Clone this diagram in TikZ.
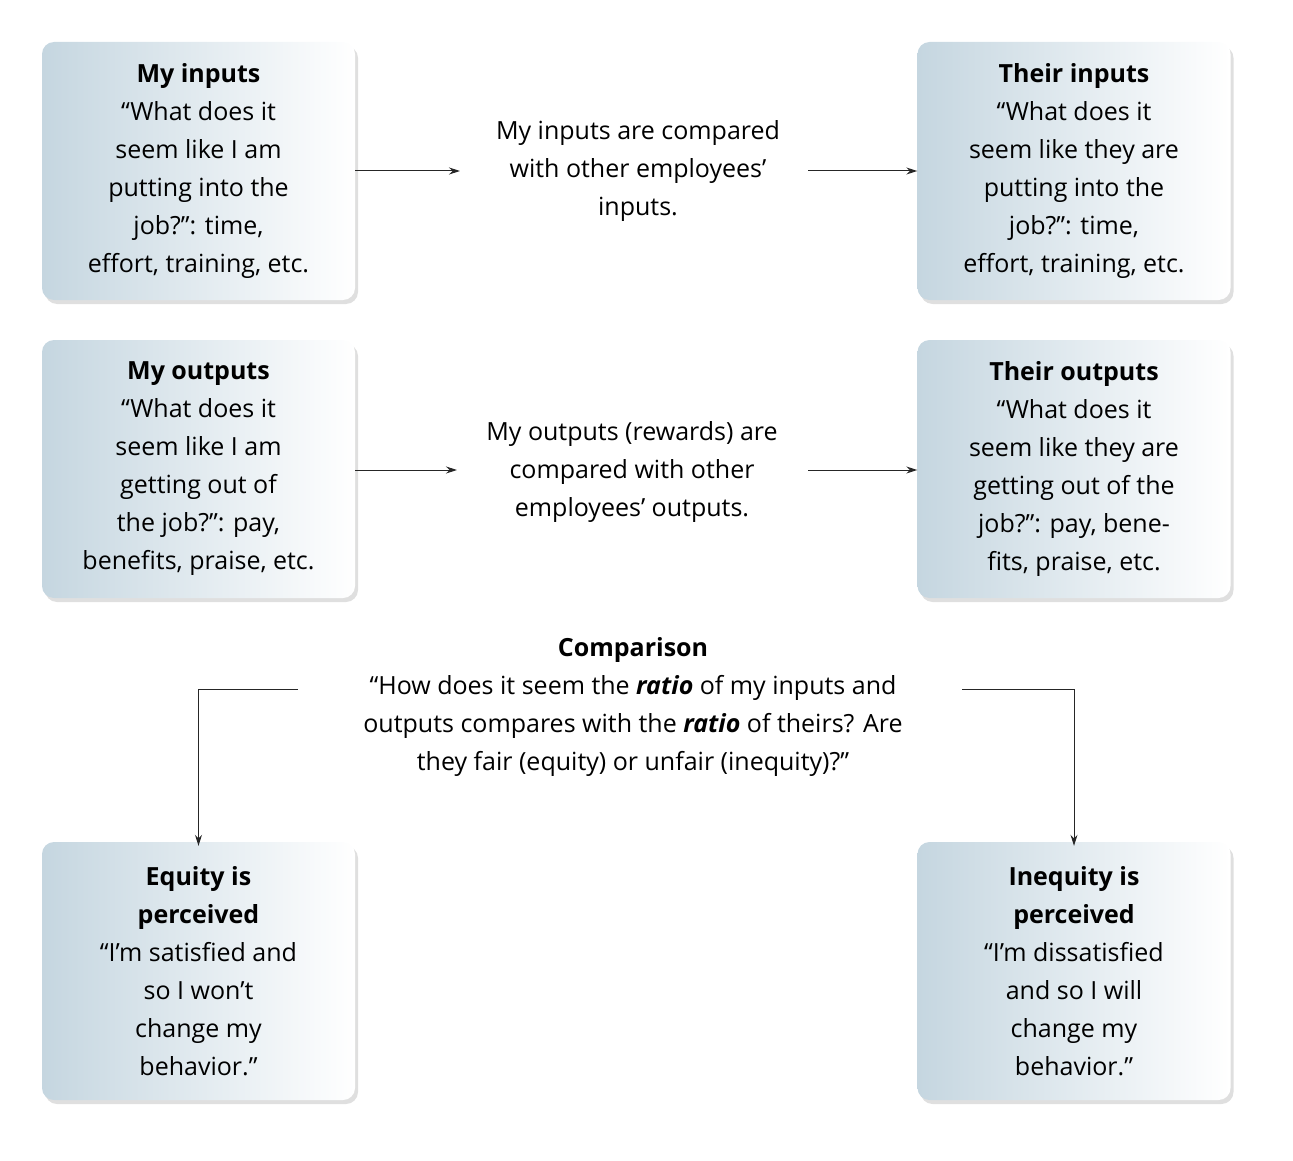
\documentclass[tikz,border=0pt]{standalone}
\usepackage{fontspec}
\setmainfont{Open Sans}
\usetikzlibrary{shadows,arrows.meta}
\definecolor{boxblue}{HTML}{C5D6E0}
\begin{document}
\begin{tikzpicture}[x=1pt,y=-1pt,
  box/.style={rounded corners=12pt, minimum width=313pt, minimum height=258pt, align=center,
    left color=boxblue, right color=white, draw=none,
    drop shadow={shadow xshift=3pt, shadow yshift=-4pt, opacity=0.25, fill=gray},
    font=\fontsize{25}{38}\selectfont, inner sep=4pt},
  lab/.style={align=center, font=\fontsize{25}{38}\selectfont},
  arr/.style={-{Stealth[length=11pt,width=7pt]}, line width=1pt, draw=black!85}]
\useasboundingbox (0,0) rectangle (1293,1161);
\node[box] (mi) at (198.5,171) {\textbf{My inputs}\\“What does it\\seem like I am\\putting into the\\job?”: time,\\effort, training, etc.};
\node[box] (ti) at (1074,171) {\textbf{Their inputs}\\“What does it\\seem like they are\\putting into the\\job?”: time,\\effort, training, etc.};
\node[box] (mo) at (198.5,469) {\textbf{My outputs}\\“What does it\\seem like I am\\getting out of\\the job?”: pay,\\benefits, praise, etc.};
\node[box] (to) at (1074,469) {\textbf{Their outputs}\\“What does it\\seem like they are\\getting out of the\\job?”: pay, bene-\\fits, praise, etc.};
\node[box] (eq) at (198.5,971) {\textbf{Equity is}\\\textbf{perceived}\\“I’m satisfied and\\so I won’t\\change my\\behavior.”};
\node[box] (iq) at (1074,971) {\textbf{Inequity is}\\\textbf{perceived}\\“I’m dissatisfied\\and so I will\\change my\\behavior.”};
\node[lab] (ci) at (638,171) {My inputs are compared\\with other employees’\\inputs.};
\node[lab] (co) at (632,472) {My outputs (rewards) are\\compared with other\\employees’ outputs.};
\node[lab] (cmp) at (633,707) {\textbf{Comparison}\\“How does it seem the \textbf{\textit{ratio}} of my inputs and\\outputs compares with the \textbf{\textit{ratio}} of theirs? Are\\they fair (equity) or unfair (inequity)?”};
\coordinate (a1) at (460,171); \coordinate (a2) at (808,171);
\coordinate (b1) at (457,470); \coordinate (b2) at (808,470);
\coordinate (c1) at (298,689); \coordinate (c2) at (962,689);
\draw[arr] (mi.east) -- (a1);
\draw[arr] (a2) -- (ti.west);
\draw[arr] (mo.east |- b1) -- (b1);
\draw[arr] (b2) -- (to.west |- b2);
\draw[arr] (c1) -| ([yshift=-4pt]eq.north);
\draw[arr] (c2) -| ([yshift=-4pt]iq.north);
\end{tikzpicture}
\end{document}
